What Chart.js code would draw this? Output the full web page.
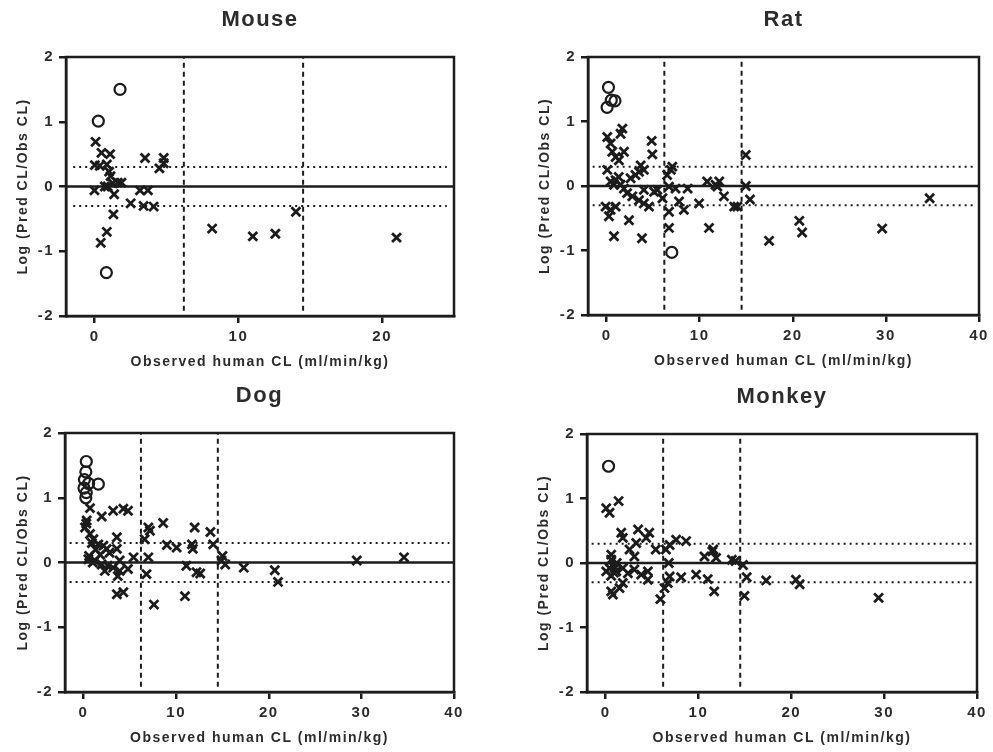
<!DOCTYPE html>
<html>
<head>
<meta charset="utf-8">
<script src="https://cdn.jsdelivr.net/npm/chart.js@4.4.1/dist/chart.umd.min.js"></script>
<style>
  body { margin: 0; background: #fff; }
  #wrap { position: relative; width: 993px; height: 752px; overflow: hidden; }
  .panel { position: absolute; }
</style>
</head>
<body>
<div id="wrap">
  <div class="panel" style="left:0px;top:0px"><canvas id="chart-mouse" width="490" height="376"></canvas></div>
  <div class="panel" style="left:522px;top:0px"><canvas id="chart-rat" width="471" height="375"></canvas></div>
  <div class="panel" style="left:0px;top:376px"><canvas id="chart-dog" width="490" height="376"></canvas></div>
  <div class="panel" style="left:521px;top:377px"><canvas id="chart-monkey" width="472" height="375"></canvas></div>
</div>
<script>
// --- data (x = observed human CL, y = log pred/obs) ---
const yTicks = [-2, -1, 0, 1, 2];
const mouseXTicks = [0, 10, 20];
const wideXTicks = [0, 10, 20, 30, 40];

// reference lines
const foldLines = [0.3, -0.3];       // 2-fold
const cutoffs = [6.2, 14.5];         // 30% / 70% of hepatic blood flow

const mouseCrossX = [0.06, 0.01, -0.02, 0.47, 0.35, 1.07, 0.84, 1.0, 1.1, 0.7, 0.9, 1.25, 1.6, 1.86, 1.35, 1.3, 0.84, 0.42, 2.5, 3.15, 3.5, 3.7, 3.4, 4.1, 4.5, 4.8, 4.8, 8.17, 11.0, 12.57, 14.0, 21.0];
const mouseCrossY = [0.69, 0.33, -0.06, 0.52, 0.32, 0.50, 0.34, 0.23, 0.16, 0.0, 0.0, 0.05, 0.06, 0.06, -0.12, -0.43, -0.70, -0.87, -0.26, -0.06, 0.44, -0.06, -0.30, -0.31, 0.28, 0.44, 0.36, -0.65, -0.77, -0.73, -0.39, -0.79];
const mouseCircleX = [1.76, 0.25, 0.81];
const mouseCircleY = [1.50, 1.01, -1.33];

const ratCrossX = [0.07, 0.43, 1.69, 1.5, 0.61, 1.86, 0.97, 1.32, 4.84, 4.91, 0.07, 3.66, 4.0, 3.48, 2.58, 3.1, 0.97, 1.3, 0.79, 1.5, 1.86, 2.2, 2.76, 3.48, 4.0, 4.55, 4.0, 5.45, 6.0, 6.7, 6.5, 7.06, 6.9, 7.4, 8.7, 7.78, 8.3, 6.7, 9.93, 6.7, 11.0, 10.8, 11.7, 12.1, 12.6, 13.7, 14.05, -0.11, 0.43, 0.97, 0.25, 2.4, 0.79, 3.8, 0.43, 5.1, 11.9, 14.95, 14.95, 15.4, 17.45, 20.7, 21.0, 29.6, 34.7];
const ratCrossY = [0.76, 0.66, 0.89, 0.81, 0.53, 0.53, 0.45, 0.40, 0.70, 0.49, 0.25, 0.32, 0.25, 0.22, 0.12, 0.17, 0.09, 0.14, 0.02, 0.02, -0.04, -0.11, -0.16, -0.22, -0.27, -0.32, -0.06, -0.06, -0.19, -0.01, 0.17, 0.30, 0.25, -0.04, -0.04, -0.24, -0.37, -0.40, -0.27, -0.65, -0.65, 0.07, 0.02, 0.07, -0.16, -0.32, -0.32, -0.32, -0.37, -0.32, -0.47, -0.53, -0.78, -0.81, 0.07, -0.09, -0.01, 0.48, 0.0, -0.21, -0.85, -0.54, -0.72, -0.66, -0.19];
const ratCircleX = [0.2, 0.5, 0.9, 0.05, 7.0];
const ratCircleY = [1.53, 1.33, 1.32, 1.22, -1.03];

const dogCrossX = [0.70, 1.96, 3.2, 4.3, 4.8, 0.34, 0.16, 0.7, 1.06, 1.6, 2.14, 2.5, 3.6, 3.6, 7.0, 7.17, 8.6, 6.6, 9.0, 10.05, 11.7, 12.0, 11.8, 0.52, 1.24, 1.96, 2.3, 3.2, 3.9, 3.9, 3.7, 4.8, 5.4, 7.0, 6.8, 3.6, 4.3, 7.6, 10.95, 11.1, 12.2, 13.7, 14.0, 12.6, 15.0, 15.3, 14.9, 17.3, 20.65, 21.0, 29.5, 34.6, 0.9, 1.3, 0.6, 1.8, 2.8, 0.3, 1.0, 2.6];
const dogCrossY = [0.84, 0.71, 0.80, 0.83, 0.80, 0.65, 0.54, 0.44, 0.36, 0.28, 0.26, 0.21, 0.39, 0.21, 0.54, 0.49, 0.61, 0.36, 0.27, 0.23, 0.28, 0.54, 0.21, 0.05, 0.03, -0.03, -0.13, -0.08, 0.03, -0.13, -0.21, -0.10, 0.08, 0.08, -0.18, -0.49, -0.46, -0.65, -0.52, -0.05, -0.15, 0.47, 0.28, -0.17, 0.10, -0.03, 0.03, -0.08, -0.12, -0.30, 0.03, 0.08, 0.30, 0.20, 0.10, 0.12, 0.15, 0.60, 0.0, -0.05];
const dogCircleX = [0.3, 0.25, 0.1, 0.55, 0.05, 0.3, 0.25, 1.6];
const dogCircleY = [1.56, 1.40, 1.28, 1.22, 1.15, 1.08, 1.0, 1.21];

const monkeyCrossX = [0.07, 0.43, 1.4, 1.69, 1.86, 3.5, 4.7, 4.37, 3.3, 2.58, 3.1, 5.4, 6.5, 6.9, 7.6, 8.67, 0.61, 0.61, 0.43, 0.97, 1.15, 0.07, 1.86, 2.4, 3.1, 3.84, 4.55, 4.55, 1.86, 1.5, 0.61, 0.79, 6.8, 6.9, 8.14, 6.7, 6.35, 5.9, 9.75, 11.0, 11.7, 10.65, 11.5, 11.9, 11.6, 13.6, 14.0, 14.8, 15.2, 17.3, 20.5, 20.9, 14.95, 29.4, 0.9, 0.6, 1.2];
const monkeyCrossY = [0.85, 0.78, 0.96, 0.47, 0.39, 0.52, 0.47, 0.39, 0.31, 0.21, 0.10, 0.21, 0.21, 0.28, 0.36, 0.34, 0.13, 0.05, -0.08, -0.08, -0.13, -0.13, -0.08, -0.16, -0.10, -0.18, -0.13, -0.26, -0.31, -0.39, -0.44, -0.49, 0.0, -0.21, -0.22, -0.31, -0.39, -0.56, -0.18, -0.25, -0.44, 0.10, 0.18, 0.08, 0.21, 0.05, 0.03, -0.03, -0.22, -0.27, -0.26, -0.33, -0.51, -0.54, -0.15, -0.20, 0.0];
const monkeyCircleX = [0.32];
const monkeyCircleY = [1.50];

const INK = '#1c1c1c';
const TEXT = '#2c2c2c';

Chart.defaults.font.family = '"Liberation Sans", Arial, sans-serif';
Chart.defaults.font.weight = 'bold';
Chart.defaults.color = TEXT;

const pairs = (xs, ys) => xs.map((x, i) => ({ x, y: ys[i] }));

// box around the plot area + wider letter spacing like the original figure
const framePlugin = {
  id: 'frame',
  beforeDraw(chart) {
    chart.ctx.letterSpacing = '1.5px';
  },
  afterDatasetsDraw(chart) {
    const { ctx, chartArea: a } = chart;
    ctx.save();
    ctx.strokeStyle = INK;
    ctx.lineWidth = 2.5;
    ctx.strokeRect(a.left, a.top, a.right - a.left, a.bottom - a.top);
    ctx.restore();
  }
};

function makePanel(p) {
  const datasets = [];

  // crosses and circles on top
  datasets.push({
    data: pairs(p.crossX, p.crossY),
    pointStyle: 'crossRot',
    pointRadius: 6.3,
    borderColor: INK,
    borderWidth: 2.8,
    order: 0
  });
  datasets.push({
    data: pairs(p.circleX, p.circleY),
    pointStyle: 'circle',
    pointRadius: 5.5,
    borderColor: INK,
    backgroundColor: 'rgba(0,0,0,0)',
    borderWidth: 2.2,
    order: 0
  });

  // zero line
  datasets.push({
    data: [{ x: p.xmin, y: 0 }, { x: p.xmax, y: 0 }],
    showLine: true, pointRadius: 0,
    borderColor: INK, borderWidth: 2.5,
    order: 1
  });
  // 2-fold dotted lines
  foldLines.forEach(v => datasets.push({
    data: [{ x: p.xmin + 0.5, y: v }, { x: p.xmax - 0.5, y: v }],
    showLine: true, pointRadius: 0,
    borderColor: INK, borderWidth: 2, borderDash: [2, 4],
    order: 1
  }));
  // dashed clearance cut-offs
  cutoffs.forEach(v => datasets.push({
    data: [{ x: v, y: -1.92 }, { x: v, y: 2 }],
    showLine: true, pointRadius: 0,
    borderColor: INK, borderWidth: 2, borderDash: [5, 4],
    order: 1
  }));

  return new Chart(document.getElementById(p.id).getContext('2d'), {
    type: 'scatter',
    data: { datasets },
    plugins: [framePlugin],
    options: {
      responsive: false,
      animation: false,
      events: [],
      layout: { padding: { left: 0, right: p.padRight, top: 0, bottom: 0 } },
      plugins: {
        legend: { display: false },
        tooltip: { enabled: false },
        title: {
          display: true,
          text: p.title,
          fullSize: false,
          color: TEXT,
          font: { size: 22, weight: 'bold' },
          padding: { top: 7, bottom: 23.6 }
        }
      },
      scales: {
        x: {
          type: 'linear',
          min: p.xmin,
          max: p.xmax,
          afterBuildTicks: s => { s.ticks = p.xTicks.map(v => ({ value: v })); },
          afterFit: s => { s.height = 60; },
          grid: { display: true, drawOnChartArea: false, drawTicks: true, tickLength: 7, lineWidth: 2.5, color: INK },
          border: { display: true, width: 2.5, color: INK },
          ticks: { padding: 5, color: TEXT, font: { size: 15, weight: 'bold' } },
          title: {
            display: true,
            text: 'Observed human CL (ml/min/kg)',
            color: TEXT,
            font: { size: 14, weight: 'bold' },
            padding: { top: 0, bottom: 5 }
          }
        },
        y: {
          type: 'linear',
          min: -2,
          max: 2,
          afterBuildTicks: s => { s.ticks = yTicks.map(v => ({ value: v })); },
          afterFit: s => { s.width = p.yAxisW; },
          grid: { display: true, drawOnChartArea: false, drawTicks: true, tickLength: 7, lineWidth: 2.5, color: INK },
          border: { display: true, width: 2.5, color: INK },
          ticks: { padding: 5, color: TEXT, font: { size: 15, weight: 'bold' } },
          title: {
            display: true,
            text: 'Log (Pred CL/Obs CL)',
            color: TEXT,
            font: { size: 14, weight: 'bold' },
            padding: { top: 15, bottom: 0 }
          }
        }
      }
    }
  });
}

makePanel({ id: 'chart-mouse', title: 'Mouse', xmin: -2, xmax: 25, xTicks: mouseXTicks, yAxisW: 66, padRight: 36,
  crossX: mouseCrossX, crossY: mouseCrossY, circleX: mouseCircleX, circleY: mouseCircleY });
makePanel({ id: 'chart-rat', title: 'Rat', xmin: -2, xmax: 40, xTicks: wideXTicks, yAxisW: 66, padRight: 14,
  crossX: ratCrossX, crossY: ratCrossY, circleX: ratCircleX, circleY: ratCircleY });
makePanel({ id: 'chart-dog', title: 'Dog', xmin: -2, xmax: 40, xTicks: wideXTicks, yAxisW: 65, padRight: 36,
  crossX: dogCrossX, crossY: dogCrossY, circleX: dogCircleX, circleY: dogCircleY });
makePanel({ id: 'chart-monkey', title: 'Monkey', xmin: -2, xmax: 40, xTicks: wideXTicks, yAxisW: 66, padRight: 16,
  crossX: monkeyCrossX, crossY: monkeyCrossY, circleX: monkeyCircleX, circleY: monkeyCircleY });
</script>
</body>
</html>
